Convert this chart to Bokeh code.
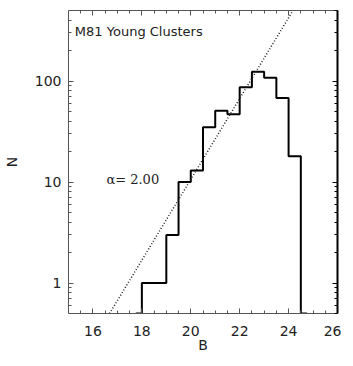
import numpy as np
from bokeh.plotting import figure
from bokeh.models import (LinearAxis, LogAxis, FixedTicker, Range1d,
                          PrintfTickFormatter, CustomJSTickFormatter, Label)
from bokeh.embed import file_html
from bokeh.resources import INLINE

# ---- data ----
bin_centers = [17.75, 18.25, 18.75, 19.25, 19.75, 20.25, 20.75, 21.25,
               21.75, 22.25, 22.75, 23.25, 23.75, 24.25, 24.75]
counts = [0, 1, 1, 3, 10, 13, 35, 51, 47, 87, 124, 108, 68, 18, 0]
fit_B = [16.68, 24.18]          # dotted power-law line (alpha = 2.00)
fit_N = [0.5, 500]
x_major = [16, 18, 20, 22, 24, 26]
x_minor = [15.5, 16.5, 17, 17.5, 18.5, 19, 19.5, 20.5, 21, 21.5,
           22.5, 23, 23.5, 24.5, 25, 25.5]
y_major = [1, 10, 100]
y_minor = [0.5, 0.6, 0.7, 0.8, 0.9, 2, 3, 4, 5, 6, 7, 8, 9,
           20, 30, 40, 50, 60, 70, 80, 90, 200, 300, 400, 500]
title_text = "M81 Young Clusters"
alpha_text = "\u03b1= 2.00"

X0, X1 = 15, 26
Y0, Y1 = 0.5, 500

p = figure(frame_width=269, frame_height=303, output_backend="svg", toolbar_location=None,
           x_range=Range1d(X0, X1), y_range=Range1d(Y0, Y1), y_axis_type="log",
           min_border_left=61, min_border_right=4, min_border_top=10,
           min_border_bottom=43)
p.outline_line_color = None
p.grid.visible = False
p.background_fill_color = "white"
p.border_fill_color = "white"

FONT = "DejaVu Sans"
AX_COL = "#555555"

def style(ax, color=AX_COL, width=1):
    ax.axis_line_color = color
    ax.axis_line_width = width
    ax.major_tick_line_color = color
    ax.minor_tick_line_color = color
    ax.major_tick_in = 5
    ax.major_tick_out = 0
    ax.minor_tick_in = 3
    ax.minor_tick_out = 0
    ax.major_label_text_font = FONT
    ax.major_label_text_font_size = "14px"
    ax.major_label_text_color = "#222222"
    ax.axis_label_text_font = FONT
    ax.axis_label_text_font_size = "14px"
    ax.axis_label_text_font_style = "normal"
    ax.axis_label_text_color = "#222222"

xa = p.xaxis[0]
xa.ticker = FixedTicker(ticks=x_major, minor_ticks=x_minor)
style(xa)
xa.major_label_standoff = 12
xa.axis_label = "B"
xa.axis_label_standoff = -2

ya = p.yaxis[0]
ya.ticker = FixedTicker(ticks=y_major, minor_ticks=y_minor)
ya.formatter = PrintfTickFormatter(format="%d")
style(ya)
ya.major_label_standoff = 7
ya.axis_label = "N"
ya.axis_label_standoff = 12

blank = CustomJSTickFormatter(code="return ''")
top = LinearAxis(ticker=FixedTicker(ticks=x_major, minor_ticks=x_minor), formatter=blank)
style(top)
top.major_label_text_font_size = "0px"
top.major_label_standoff = 0
p.add_layout(top, "above")

right = LogAxis(ticker=FixedTicker(ticks=y_major, minor_ticks=y_minor), formatter=blank)
style(right, color="black", width=2)
right.major_label_text_font_size = "0px"
right.major_label_standoff = 0
p.add_layout(right, "right")

# histogram (IDL psym=10 style), empty bins clipped to the axis floor
cnt = np.array(counts, dtype=float)
cnt_plot = np.where(cnt > 0, cnt, Y0)
p.step(bin_centers, cnt_plot, mode="center", line_color="black", line_width=2)

# dotted power-law line
p.line(fit_B, fit_N, line_color="#222222", line_width=1.5, line_dash="1 2")

p.add_layout(Label(x=15.26, y=310, text=title_text, text_font=FONT,
                   text_font_size="13px", text_color="#222222",
                   text_baseline="middle", text_align="left"))
p.add_layout(Label(x=16.55, y=10.7, text=alpha_text, text_font="DejaVu Serif",
                   text_font_size="13px", text_color="#222222",
                   text_baseline="middle", text_align="left"))

open("out.html", "w").write(file_html(p, INLINE))
